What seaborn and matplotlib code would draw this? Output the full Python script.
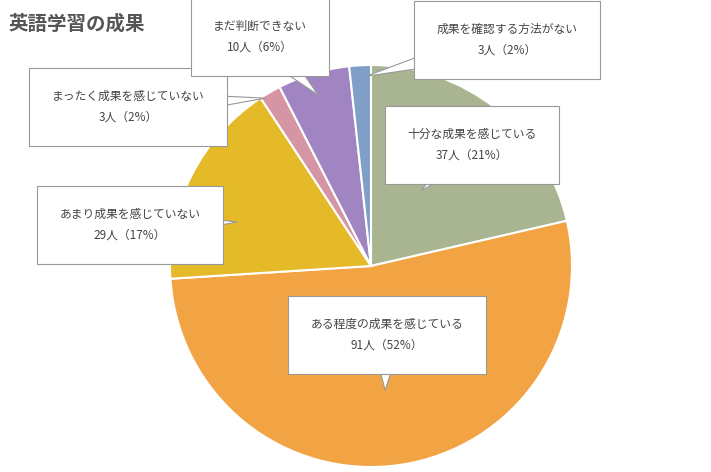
import matplotlib
matplotlib.use("Agg")
import matplotlib.pyplot as plt
import seaborn as sns

sns.set_style("white")
plt.rcParams["font.family"] = ["Noto Sans CJK JP", "DejaVu Sans"]

labels = ["十分な成果を感じている", "ある程度の成果を感じている", "あまり成果を感じていない",
          "まったく成果を感じていない", "まだ判断できない", "成果を確認する方法がない"]
counts = [37, 91, 29, 3, 10, 3]
pcts = [21, 52, 17, 2, 6, 2]
colors = ["#A8B590", "#F2A444", "#E5BA28", "#D595A5", "#A085C2", "#7F9FC8"]

# callout centres and pointer tips (pixels from top-left)
box_xy = [(472, 145), (387, 335), (130, 225), (128, 107), (260, 37), (507, 40)]
tip_xy = [(420, 192), (385, 393), (240, 222), (268, 98), (320, 97), (363, 77)]

W, H = 711, 472
fig = plt.figure(figsize=(W / 100, H / 100), dpi=100)
cx, cy, r = 371, 266, 201
ax = fig.add_axes([(cx - r) / W, (H - cy - r) / H, 2 * r / W, 2 * r / H])
ax.pie(counts, colors=colors, startangle=90, counterclock=False,
       wedgeprops=dict(edgecolor="white", linewidth=1.5))
ax.set_xlim(-1, 1)
ax.set_ylim(-1, 1)
ax.set_aspect("equal")
ax.axis("off")

def ff(p):
    return (p[0] / W, 1 - p[1] / H)

for lab, n, p, b, t in zip(labels, counts, pcts, box_xy, tip_xy):
    ax.annotate("", xy=ff(t), xycoords="figure fraction",
                xytext=ff(b), textcoords="figure fraction",
                arrowprops=dict(arrowstyle="wedge,tail_width=2.2", fc="white",
                                ec="#999999", lw=0.8))
    fig.text(*ff(b), f"{lab}\n{n}人（{p}%）", ha="center", va="center",
             fontsize=8.5, color="#444444", linespacing=1.8,
             bbox=dict(boxstyle="square,pad=1.9", fc="white", ec="#999999", lw=0.8))

fig.text(8 / W, 1 - 24 / H, "英語学習の成果", fontsize=14, fontweight="bold",
         color="#555555", va="center")
fig.savefig("out.png", dpi=100)
